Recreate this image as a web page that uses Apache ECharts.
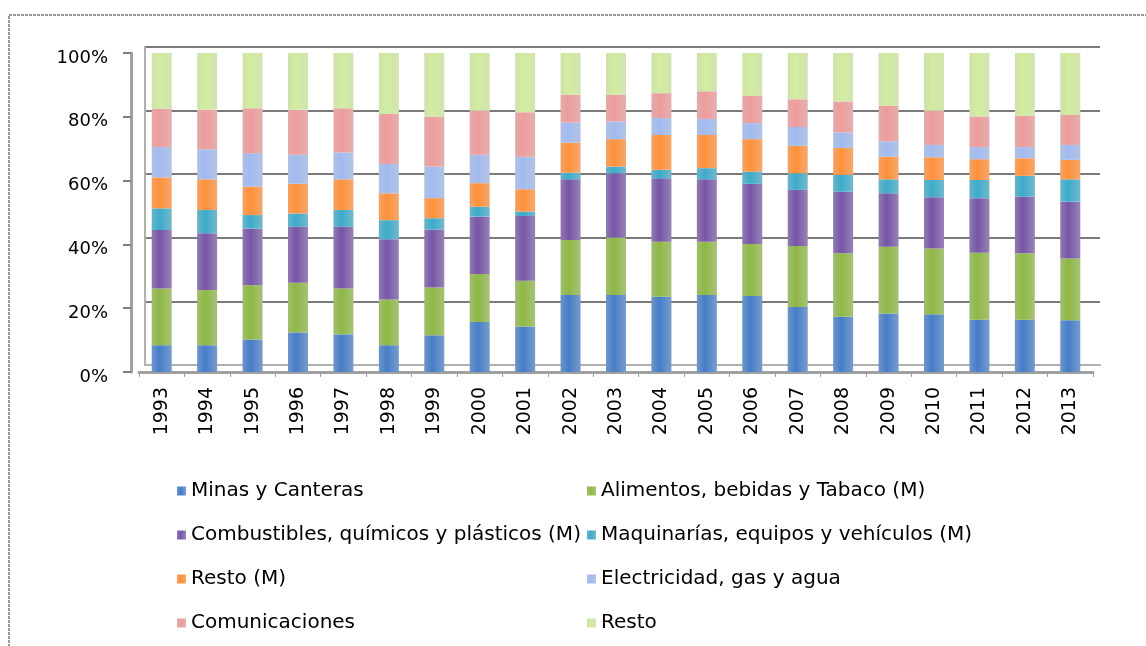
<!DOCTYPE html>
<html>
<head>
<meta charset="utf-8">
<script src="https://cdn.jsdelivr.net/npm/echarts@6/dist/echarts.min.js"></script>
<style>
    html, body { margin: 0; padding: 0; background: #fff; }
    #chart { width: 1146px; height: 646px; }
</style>
</head>
<body>
<div id="chart"></div>
<script>
    // años
    var years = ['1993','1994','1995','1996','1997','1998','1999','2000','2001','2002','2003',
                 '2004','2005','2006','2007','2008','2009','2010','2011','2012','2013'];

    // participación (%)
    var minas        = [8.4, 8.4, 10.2, 12.4, 11.8, 8.4, 11.5, 15.7, 14.3, 24.1, 24.1, 23.6, 24.1, 23.8, 20.4, 17.3, 18.3, 18.1, 16.4, 16.4, 16.2];
    var alimentos    = [17.8, 17.3, 17.0, 15.6, 14.4, 14.3, 15.0, 15.0, 14.3, 17.3, 18.1, 17.2, 16.7, 16.3, 19.1, 19.9, 21.0, 20.6, 21.0, 20.8, 19.4];
    var combustibles = [18.3, 17.8, 17.8, 17.5, 19.3, 18.9, 18.2, 18.0, 20.3, 19.0, 20.1, 19.9, 19.6, 18.9, 17.6, 19.3, 16.7, 16.1, 17.1, 17.8, 17.8];
    var maquinarias  = [6.8, 7.3, 4.2, 4.2, 5.3, 6.0, 3.5, 3.1, 1.4, 2.1, 2.1, 2.7, 3.5, 3.8, 5.2, 5.3, 4.4, 5.4, 5.7, 6.5, 7.0];
    var restoM       = [9.7, 9.6, 8.9, 9.3, 9.6, 8.4, 6.3, 7.4, 7.0, 9.4, 8.6, 10.9, 10.4, 10.2, 8.6, 8.4, 7.1, 7.1, 6.5, 5.5, 6.1];
    var electricidad = [9.5, 9.4, 10.5, 9.1, 8.4, 9.2, 9.9, 8.9, 10.2, 6.3, 5.5, 5.3, 5.0, 5.0, 5.9, 4.9, 4.8, 3.9, 3.8, 3.5, 4.7];
    var comunic      = [12.0, 12.4, 14.1, 14.1, 13.9, 15.7, 15.7, 13.8, 13.9, 8.7, 8.4, 7.8, 8.7, 8.6, 8.7, 9.7, 11.2, 10.7, 9.6, 9.8, 9.4];
    var resto        = [17.5, 17.8, 17.3, 17.8, 17.3, 19.1, 19.9, 18.1, 18.6, 13.1, 13.1, 12.6, 12.0, 13.4, 14.5, 15.2, 16.5, 18.1, 19.9, 19.7, 19.4];

    var names = ['Minas y Canteras', 'Alimentos, bebidas y Tabaco (M)',
                 'Combustibles, químicos y plásticos (M)', 'Maquinarías, equipos y vehículos (M)',
                 'Resto (M)', 'Electricidad, gas y agua', 'Comunicaciones', 'Resto'];
    var values = [minas, alimentos, combustibles, maquinarias, restoM, electricidad, comunic, resto];
    var colors = ['#3F72B6', '#82A83F', '#6C4E98', '#379CB8', '#F08434', '#93AADB', '#D98E8E', '#BFD891'];

    var font = 'DejaVu Sans';

    // cilindro: bordes más oscuros, centro más claro
    function cyl(c) {
        return new echarts.graphic.LinearGradient(0, 0, 1, 0, [
            { offset: 0, color: echarts.color.lift(c, 0.25) },
            { offset: 0.4, color: echarts.color.lift(c, -0.1) },
            { offset: 1, color: echarts.color.lift(c, 0.3) }
        ]);
    }

    var series = names.map(function (n, i) {
        return {
            name: n,
            type: 'bar',
            stack: 'total',
            barWidth: 20,
            itemStyle: { color: cyl(colors[i]) },
            data: values[i]
        };
    });

    var legendText = { fontFamily: font, fontSize: 20, color: '#000' };

    var chart = echarts.init(document.getElementById('chart'));
    var option = {
        backgroundColor: '#fff',
        animation: false,
        color: colors,
        graphic: [{
            type: 'rect',
            shape: { x: 9, y: 15, width: 1150, height: 640 },
            style: { fill: 'none', stroke: '#9a9a9a', lineWidth: 2, lineDash: [3, 1] }
        }],
        grid: [
            { left: 139, right: 53, top: 53, bottom: 274 },
            { left: 145, right: 46, top: 47, bottom: 281 }
        ],
        legend: [
            {
                orient: 'vertical', left: 172, top: 476, itemGap: 24,
                itemWidth: 9, itemHeight: 9, icon: 'rect',
                textStyle: legendText,
                data: [names[0], names[2], names[4], names[6]]
            },
            {
                orient: 'vertical', left: 582, top: 476, itemGap: 24,
                itemWidth: 9, itemHeight: 9, icon: 'rect',
                textStyle: legendText,
                data: [names[1], names[3], names[5], names[7]]
            }
        ],
        xAxis: [
            {
                type: 'category',
                data: years,
                gridIndex: 0,
                offset: 3,
                axisLine: { lineStyle: { color: '#a0a0a0', width: 3 } },
                axisTick: { show: true, lineStyle: { color: '#a0a0a0' } },
                axisLabel: { rotate: 90, margin: 12, fontFamily: font, fontSize: 19, color: '#000' }
            },
            {
                type: 'category',
                data: years,
                gridIndex: 1,
                axisLine: { lineStyle: { color: '#b0b0b0', width: 2 } },
                axisTick: { show: false },
                axisLabel: { show: false }
            }
        ],
        yAxis: [
            {
                type: 'value',
                gridIndex: 0,
                min: 0, max: 100, interval: 20,
                offset: 8,
                axisLine: { show: true, lineStyle: { color: '#a0a0a0', width: 3 } },
                axisTick: { show: true, length: 8, lineStyle: { color: '#808080', width: 2 } },
                splitLine: { show: false },
                axisLabel: {
                    formatter: '{v|{value}%}', margin: 23,
                    rich: { v: { fontFamily: font, fontSize: 18, color: '#000', padding: [10, 0, 0, 0] } }
                }
            },
            {
                type: 'value',
                gridIndex: 1,
                min: 0, max: 100, interval: 20,
                axisLine: { show: true, lineStyle: { color: '#b0b0b0', width: 2 } },
                axisTick: { show: false },
                splitLine: { lineStyle: { color: '#7a7a7a', width: 2 } },
                axisLabel: { show: false }
            }
        ],
        series: series
    };
    chart.setOption(option);
</script>
</body>
</html>
